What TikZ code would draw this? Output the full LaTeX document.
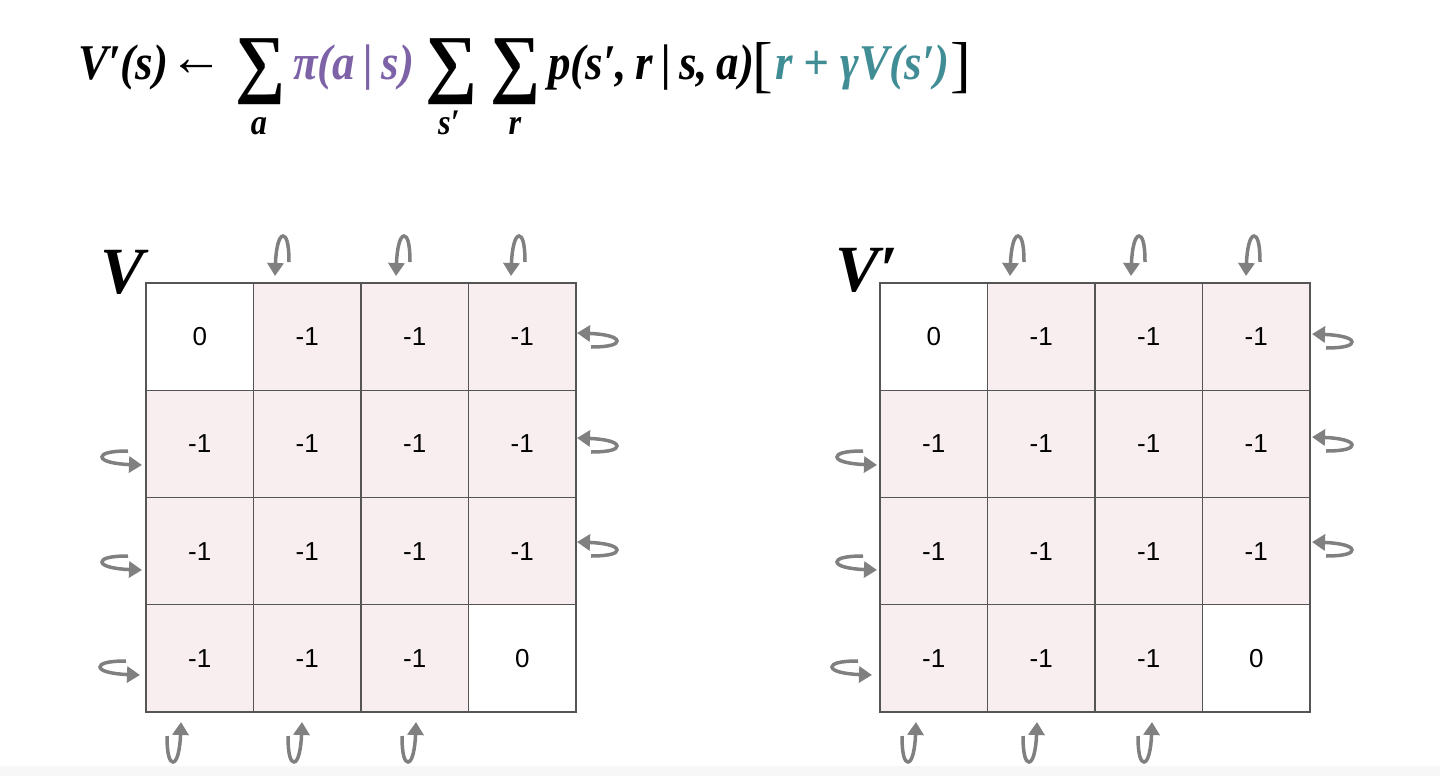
\documentclass[tikz,border=0pt]{standalone}
\usepackage{fontspec}
\usepackage{graphicx}
\usetikzlibrary{arrows.meta}
\setmainfont{Liberation Serif}
\newfontfamily\numfont{Liberation Sans}
\newfontfamily\eqfont[FakeStretch=0.9]{Liberation Serif}
\definecolor{cellpink}{HTML}{F8EEF0}
\definecolor{eqpurple}{HTML}{7D62A8}
\definecolor{eqteal}{HTML}{418D96}
\definecolor{arrgray}{HTML}{808080}
\definecolor{gridgray}{HTML}{555555}
\begin{document}
\begin{tikzpicture}[x=1pt,y=-1pt,
  eq/.style={inner sep=0pt, anchor=base west, font=\eqfont\bfseries\itshape\fontsize{50}{60}\selectfont},
  eqsub/.style={inner sep=0pt, anchor=base, font=\eqfont\bfseries\itshape\fontsize{36}{40}\selectfont},
  bigsum/.style={inner sep=0pt, anchor=north west},
  cell/.style={draw=gridgray, line width=1.3pt, minimum width=107.5pt, minimum height=107.25pt, inner sep=0pt, outer sep=0pt, font=\numfont\fontsize{26}{26}\selectfont},
  gridlabel/.style={inner sep=0pt, anchor=base west, font=\bfseries\itshape\fontsize{66}{66}\selectfont},
  arrline/.style={draw=arrgray, line width=3.5pt, -{Triangle[length=13pt,width=16pt]}},
  uturn/.pic={\draw[arrline] (14,-14) .. controls (14,-34) and (11,-40) .. (8,-40) .. controls (4,-40) and (1,-28) .. (0,0);}
]
\useasboundingbox (0,0) rectangle (1440,776);
\fill[gray!6] (0,766) rectangle (1440,776);

% formula
\node[eq] (f1) at (78,80) {V′(s)};
\node[inner sep=0pt, anchor=center, font=\fontsize{54}{54}\selectfont] (f2) at (196,68) {←};
\node[bigsum] (s1) at (235,38) {\resizebox*{50pt}{66pt}{\bfseries ∑}};
\node[eqsub] (s1a) at (259,134) {a};
\node[eq, text=eqpurple] (f3) at (293,80) {π(a\,|\,s)};
\node[bigsum] (s2) at (425,38) {\resizebox*{52pt}{66pt}{\bfseries ∑}};
\node[eqsub] (s2a) at (449,134) {s′};
\node[bigsum] (s3) at (490,38) {\resizebox*{50pt}{66pt}{\bfseries ∑}};
\node[eqsub] (s3a) at (515,134) {r};
\node[eq] (f4) at (548,80) {p(s′,\,r\,|\,s,\,a)};
\node[inner sep=0pt, anchor=base west, font=\fontsize{62}{62}\selectfont] (lb) at (752,85) {[};
\node[eq, text=eqteal] (f5) at (775,80) {r + γV(s′)};
\node[inner sep=0pt, anchor=base west, font=\fontsize{62}{62}\selectfont] (rb) at (950,85) {]};

% grids
\foreach \g/\ox in {L/146, R/880}{
  \foreach \r in {0,...,3}{
    \foreach \c in {0,...,3}{
      \pgfmathtruncatemacro\z{and(\r==0,\c==0)+and(\r==3,\c==3)}
      \ifnum\z=1
        \node[cell, fill=white] (\g-\r-\c) at (\ox+53.75+107.5*\c, 336.6+107.25*\r) {0};
      \else
        \node[cell, fill=cellpink] (\g-\r-\c) at (\ox+53.75+107.5*\c, 336.6+107.25*\r) {-1};
      \fi
    }
  }
}
\node[gridlabel] (lv) at (100,293) {V};
\node[gridlabel] (rv) at (835,291) {V′};

% arrows top
\foreach \x in {275,396,511,1010,1131,1246}{ \pic at (\x,276) {uturn}; }
% bottom
\foreach \x in {181,302,416,916,1037,1152}{ \pic[rotate=180] at (\x,722) {uturn}; }
% right side
\foreach \x/\y in {577/333,577/438,577/542,1312/334,1312/437,1312/542}{ \pic[rotate=-90] at (\x,\y) {uturn}; }
% left side
\foreach \x/\y in {142/465,142/570,140/675,877/465,877/570,872/675}{ \pic[rotate=90] at (\x,\y) {uturn}; }
\end{tikzpicture}
\end{document}
